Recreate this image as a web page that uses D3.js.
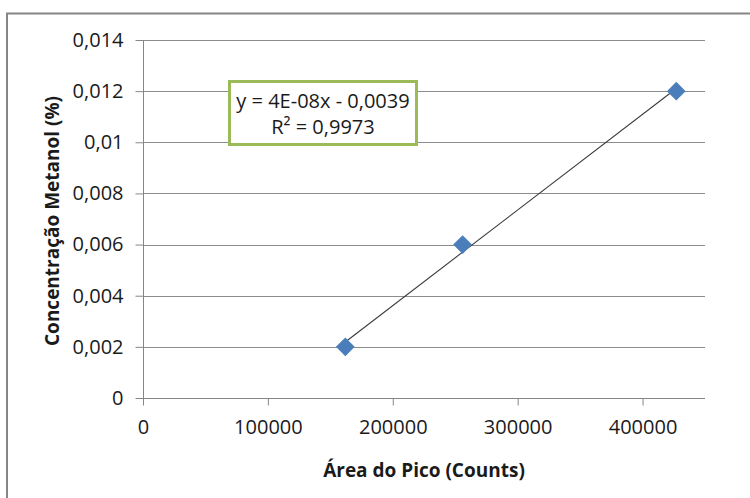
<!DOCTYPE html>
<html>
<head>
<meta charset="utf-8">
<script src="https://cdn.jsdelivr.net/npm/d3@7"></script>
<style>
  html, body { margin: 0; padding: 0; background: #fff; }
  svg { display: block; font-family: "Open Sans", "Noto Sans", sans-serif; }
</style>
</head>
<body>
<svg id="chart" width="750" height="498"></svg>
<script>
// Calibration points: peak area (counts) vs methanol concentration (%)
const areas = [162000, 255900, 427000];
const concentrations = [0.002, 0.006, 0.012];
const xTicks = [0, 100000, 200000, 300000, 400000];
const yTicks = [0, 0.002, 0.004, 0.006, 0.008, 0.01, 0.012, 0.014];
const xTitle = "Área do Pico (Counts)";
const yTitle = "Concentração Metanol (%)";

const svg = d3.select("#chart");
const W = 750, H = 498;
const plot = { left: 143, right: 705, top: 40, bottom: 398 };

const x = d3.scaleLinear().domain([0, 450000]).range([plot.left, plot.right]);
const y = d3.scaleLinear().domain([0, 0.014]).range([plot.bottom, plot.top]);

// Least-squares fit
const n = areas.length;
const mx = d3.mean(areas), my = d3.mean(concentrations);
let sxy = 0, sxx = 0, syy = 0;
for (let i = 0; i < n; i++) {
  const dx = areas[i] - mx, dy = concentrations[i] - my;
  sxy += dx * dy; sxx += dx * dx; syy += dy * dy;
}
const slope = sxy / sxx;
const intercept = my - slope * mx;
const r2 = (sxy * sxy) / (sxx * syy);

// Chart frame
svg.append("rect")
  .attr("x", 7).attr("y", 13.5)
  .attr("width", W + 10).attr("height", H + 10)
  .attr("fill", "#fff").attr("stroke", "#868686").attr("stroke-width", 2);

// Horizontal gridlines
svg.append("g").selectAll("line")
  .data(yTicks.filter(d => d > 0))
  .join("line")
  .attr("x1", plot.left).attr("x2", plot.right)
  .attr("y1", d => Math.round(y(d)) + 0.5).attr("y2", d => Math.round(y(d)) + 0.5)
  .attr("stroke", "#8c8c8c").attr("stroke-width", 1);

// Y axis
const fmtComma = d => d === 0 ? "0" : String(d).replace(".", ",");
const yAxis = svg.append("g")
  .attr("transform", `translate(${plot.left + 0.5},0)`)
  .call(d3.axisLeft(y).tickValues(yTicks).tickSize(8).tickPadding(12).tickFormat(fmtComma));
yAxis.select(".domain").attr("stroke", "#868686").attr("d", `M0,${plot.top}V${plot.bottom}`);
yAxis.selectAll(".tick line").attr("stroke", "#868686");
yAxis.selectAll(".tick text").attr("fill", "#1a1a1a").style("font-size", "20px")
  .attr("font-family", "'Open Sans', sans-serif");

// X axis
const xAxis = svg.append("g")
  .attr("transform", `translate(0,${plot.bottom + 0.5})`)
  .call(d3.axisBottom(x).tickValues(xTicks).tickSize(7).tickPadding(14).tickFormat(d3.format("d")));
xAxis.select(".domain").attr("stroke", "#868686").attr("d", `M${plot.left},0H${plot.right}`);
xAxis.selectAll(".tick line").attr("stroke", "#868686");
xAxis.selectAll(".tick text").attr("fill", "#1a1a1a").style("font-size", "20px")
  .attr("font-family", "'Open Sans', sans-serif");

// Trendline across the data range
const x0 = d3.min(areas), x1 = d3.max(areas);
svg.append("line")
  .attr("x1", x(x0)).attr("y1", y(slope * x0 + intercept))
  .attr("x2", x(x1)).attr("y2", y(slope * x1 + intercept))
  .attr("stroke", "#3a3a3a").attr("stroke-width", 1.1);

// Diamond markers
const diamond = d3.symbol().type(d3.symbolSquare).size(150);
svg.append("g").selectAll("path")
  .data(areas.map((a, i) => [a, concentrations[i]]))
  .join("path")
  .attr("d", diamond)
  .attr("transform", d => `translate(${x(d[0])},${y(d[1])}) rotate(45)`)
  .attr("fill", "#4a7ebb").attr("stroke", "#4a7ebb").attr("stroke-width", 1);

// Equation box
const fmtExp = v => {
  const [m, e] = v.toExponential(0).split("e");
  const ev = parseInt(e, 10);
  return m.toUpperCase() + "E" + (ev < 0 ? "-" : "+") + String(Math.abs(ev)).padStart(2, "0");
};
const fmtDec = (v, p) => v.toFixed(p).replace(".", ",");
const eqLine1 = `y = ${fmtExp(slope)}x ${intercept < 0 ? "-" : "+"} ${fmtDec(Math.abs(intercept), 4)}`;
const eqLine2 = `R² = ${fmtDec(r2, 4)}`;

const box = svg.append("g");
box.append("rect")
  .attr("x", 229.5).attr("y", 81.5).attr("width", 187).attr("height", 63)
  .attr("fill", "#fff").attr("stroke", "#9bbb59").attr("stroke-width", 3);
box.append("text")
  .attr("x", 323).attr("y", 108).attr("text-anchor", "middle")
  .style("font-size", "20px").attr("fill", "#1a1a1a").text(eqLine1);
box.append("text")
  .attr("x", 323).attr("y", 134).attr("text-anchor", "middle")
  .style("font-size", "20px").attr("fill", "#1a1a1a").text(eqLine2);

// Axis titles
svg.append("text")
  .attr("x", (plot.left + plot.right) / 2).attr("y", 477)
  .attr("text-anchor", "middle")
  .style("font-size", "19px").style("font-weight", "bold").attr("fill", "#1a1a1a")
  .text(xTitle);
svg.append("text")
  .attr("transform", `translate(59,${(plot.top + plot.bottom) / 2 + 2}) rotate(-90)`)
  .attr("text-anchor", "middle")
  .style("font-size", "19px").style("font-weight", "bold").attr("fill", "#1a1a1a")
  .text(yTitle);
</script>
</body>
</html>
